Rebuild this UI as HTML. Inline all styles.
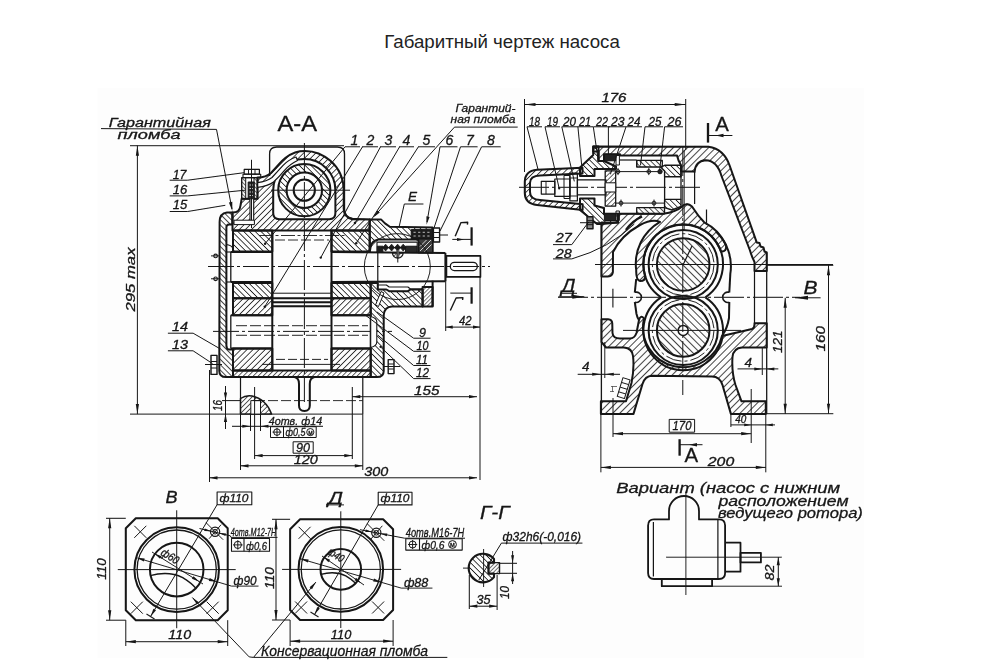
<!DOCTYPE html>
<html><head><meta charset="utf-8"><title>Габаритный чертеж насоса</title>
<style>
html,body{margin:0;padding:0;background:#fff;}
body{width:998px;height:672px;overflow:hidden;position:relative;font-family:"Liberation Sans",sans-serif;}
#title{position:absolute;left:0;top:31px;width:1004px;text-align:center;font-size:18.7px;color:#222;font-family:"Liberation Sans",sans-serif;}
svg{position:absolute;left:0;top:0;}
svg text{font-family:"Liberation Sans",sans-serif;fill:#151515;stroke:#151515;stroke-width:0.3px;}
</style></head><body>
<div id="title">Габаритный чертеж насоса</div>
<svg width="998" height="672" viewBox="0 0 998 672" stroke="#151515" fill="none" stroke-linecap="butt" stroke-linejoin="round">
<defs>
<pattern id="hf" width="4.3" height="4" patternUnits="userSpaceOnUse" patternTransform="rotate(45)"><line x1="0" y1="-1" x2="0" y2="5" stroke="#151515" stroke-width="1.55"/></pattern>
<pattern id="hb" width="4.1" height="4" patternUnits="userSpaceOnUse" patternTransform="rotate(-45)"><line x1="0" y1="-1" x2="0" y2="5" stroke="#151515" stroke-width="1.6"/></pattern>
<pattern id="hf2" width="2.8" height="4" patternUnits="userSpaceOnUse" patternTransform="rotate(45)"><line x1="0" y1="-1" x2="0" y2="5" stroke="#151515" stroke-width="1.15"/></pattern>
<pattern id="hb2" width="2.8" height="4" patternUnits="userSpaceOnUse" patternTransform="rotate(-45)"><line x1="0" y1="-1" x2="0" y2="5" stroke="#151515" stroke-width="1.15"/></pattern>
<pattern id="hb3" width="3.8" height="4" patternUnits="userSpaceOnUse" patternTransform="rotate(-45)"><line x1="0" y1="-1" x2="0" y2="5" stroke="#151515" stroke-width="1.5"/></pattern>
<pattern id="hf3" width="3.5" height="4" patternUnits="userSpaceOnUse" patternTransform="rotate(45)"><line x1="0" y1="-1" x2="0" y2="5" stroke="#151515" stroke-width="1.35"/></pattern>
<pattern id="hfw" width="5" height="4" patternUnits="userSpaceOnUse" patternTransform="rotate(45)"><line x1="0" y1="-1" x2="0" y2="5" stroke="#151515" stroke-width="1.6"/></pattern>
<pattern id="hbw" width="5" height="4" patternUnits="userSpaceOnUse" patternTransform="rotate(-45)"><line x1="0" y1="-1" x2="0" y2="5" stroke="#151515" stroke-width="1.6"/></pattern>
<filter id="soft" x="0" y="0" width="998" height="672" filterUnits="userSpaceOnUse"><feGaussianBlur stdDeviation="0.45"/></filter>
</defs>
<rect x="97.5" y="88" width="766.5" height="570.3" fill="#fdfdfd" stroke="none"/>
<g filter="url(#soft)">
<text x="108.8" y="126.8" font-size="13.4" font-style="italic" font-weight="normal" text-anchor="start" textLength="102.0" lengthAdjust="spacingAndGlyphs" >Гарантийная</text>
<line x1="101.0" y1="128.6" x2="216.5" y2="129.4" stroke-width="1.0" />
<text x="117.6" y="138.9" font-size="13.4" font-style="italic" font-weight="normal" text-anchor="start" textLength="63.0" lengthAdjust="spacingAndGlyphs" >пломба</text>
<line x1="216.5" y1="129.4" x2="232.0" y2="209.0" stroke-width="1.0" />
<path d="M232.3 211.0 L228.9 202.5 L232.3 201.8 Z" fill="#151515" stroke="none"/>
<text x="277.5" y="131.4" font-size="22.5" font-style="normal" font-weight="normal" text-anchor="start" textLength="39.5" lengthAdjust="spacingAndGlyphs" stroke="none">А-А</text>
<line x1="130.0" y1="145.7" x2="344.0" y2="145.7" stroke-width="1.0" />
<line x1="137.4" y1="145.7" x2="137.4" y2="414.1" stroke-width="1.0" />
<path d="M137.4 145.7 L139.0 155.7 L135.8 155.7 Z" fill="#151515" stroke="none"/>
<path d="M137.4 414.1 L135.8 404.1 L139.0 404.1 Z" fill="#151515" stroke="none"/>
<line x1="130.0" y1="414.1" x2="362.8" y2="414.1" stroke-width="1.0" />
<text x="134.5" y="311.5" font-size="12.5" font-style="italic" font-weight="normal" text-anchor="start" textLength="64.0" lengthAdjust="spacingAndGlyphs" transform="rotate(-90 134.5 311.5)" >295 max</text>
<text x="172.7" y="179.0" font-size="12.5" font-style="italic" font-weight="normal" text-anchor="start" textLength="13.8" lengthAdjust="spacingAndGlyphs" >17</text>
<line x1="169.7" y1="180.2" x2="187.7" y2="180.2" stroke-width="1.0" />
<line x1="187.7" y1="180.2" x2="244.0" y2="172.7" stroke-width="1.0" />
<text x="172.7" y="194.0" font-size="12.5" font-style="italic" font-weight="normal" text-anchor="start" textLength="14.5" lengthAdjust="spacingAndGlyphs" >16</text>
<line x1="169.7" y1="195.9" x2="187.7" y2="195.9" stroke-width="1.0" />
<line x1="187.7" y1="195.9" x2="245.3" y2="190.2" stroke-width="1.0" />
<text x="172.7" y="209.0" font-size="12.5" font-style="italic" font-weight="normal" text-anchor="start" textLength="14.5" lengthAdjust="spacingAndGlyphs" >15</text>
<line x1="169.7" y1="211.5" x2="187.7" y2="211.5" stroke-width="1.0" />
<line x1="187.7" y1="211.5" x2="225.3" y2="205.3" stroke-width="1.0" />
<text x="172.0" y="331.0" font-size="12.5" font-style="italic" font-weight="normal" text-anchor="start" textLength="16.0" lengthAdjust="spacingAndGlyphs" >14</text>
<line x1="167.9" y1="333.2" x2="193.1" y2="333.2" stroke-width="1.0" />
<line x1="193.1" y1="333.2" x2="219.9" y2="348.7" stroke-width="1.0" />
<text x="172.0" y="348.7" font-size="12.5" font-style="italic" font-weight="normal" text-anchor="start" textLength="16.0" lengthAdjust="spacingAndGlyphs" >13</text>
<line x1="167.9" y1="350.8" x2="193.1" y2="350.8" stroke-width="1.0" />
<line x1="193.1" y1="350.8" x2="212.5" y2="363.6" stroke-width="1.0" />
<text x="350.5" y="144.5" font-size="14" font-style="italic" font-weight="normal" text-anchor="start"  stroke="none">1</text>
<line x1="345.0" y1="146.8" x2="360.0" y2="146.8" stroke-width="1.0" />
<text x="366.5" y="144.5" font-size="14" font-style="italic" font-weight="normal" text-anchor="start"  stroke="none">2</text>
<line x1="362.0" y1="146.8" x2="378.0" y2="146.8" stroke-width="1.0" />
<text x="384.5" y="144.5" font-size="14" font-style="italic" font-weight="normal" text-anchor="start"  stroke="none">3</text>
<line x1="380.0" y1="146.8" x2="396.0" y2="146.8" stroke-width="1.0" />
<text x="402.5" y="144.5" font-size="14" font-style="italic" font-weight="normal" text-anchor="start"  stroke="none">4</text>
<line x1="399.0" y1="146.8" x2="414.0" y2="146.8" stroke-width="1.0" />
<text x="422.5" y="144.5" font-size="14" font-style="italic" font-weight="normal" text-anchor="start"  stroke="none">5</text>
<line x1="418.0" y1="146.8" x2="435.0" y2="146.8" stroke-width="1.0" />
<text x="445.5" y="144.5" font-size="14" font-style="italic" font-weight="normal" text-anchor="start"  stroke="none">6</text>
<line x1="440.0" y1="146.8" x2="457.5" y2="146.8" stroke-width="1.0" />
<text x="466.0" y="144.5" font-size="14" font-style="italic" font-weight="normal" text-anchor="start"  stroke="none">7</text>
<line x1="460.5" y1="146.8" x2="477.6" y2="146.8" stroke-width="1.0" />
<text x="487.1" y="144.5" font-size="14" font-style="italic" font-weight="normal" text-anchor="start"  stroke="none">8</text>
<line x1="481.6" y1="146.8" x2="500.7" y2="146.8" stroke-width="1.0" />
<line x1="345.0" y1="146.8" x2="265.1" y2="243.7" stroke-width="1.0" />
<circle cx="265.1" cy="243.7" r="1.2" stroke-width="0" fill="#151515" />
<line x1="362.5" y1="146.8" x2="264.7" y2="306.8" stroke-width="1.0" />
<circle cx="264.7" cy="306.8" r="1.2" stroke-width="0" fill="#151515" />
<line x1="380.5" y1="146.8" x2="320.8" y2="257.6" stroke-width="1.0" />
<circle cx="320.8" cy="257.6" r="1.2" stroke-width="0" fill="#151515" />
<line x1="399.6" y1="146.8" x2="354.9" y2="223.0" stroke-width="1.0" />
<circle cx="354.9" cy="223.0" r="1.2" stroke-width="0" fill="#151515" />
<line x1="418.4" y1="146.8" x2="356.2" y2="243.2" stroke-width="1.0" />
<circle cx="356.2" cy="243.2" r="1.2" stroke-width="0" fill="#151515" />
<line x1="440.0" y1="146.8" x2="427.0" y2="222.0" stroke-width="1.0" />
<path d="M426.6 224.5 L426.4 216.3 L429.6 216.9 Z" fill="#151515" stroke="none"/>
<line x1="460.5" y1="146.8" x2="434.0" y2="228.0" stroke-width="1.0" />
<line x1="481.6" y1="146.8" x2="440.0" y2="231.0" stroke-width="1.0" />
<text x="455.5" y="112.0" font-size="11.5" font-style="italic" font-weight="normal" text-anchor="start" textLength="60.0" lengthAdjust="spacingAndGlyphs" >Гарантий-</text>
<text x="450.5" y="122.5" font-size="11.5" font-style="italic" font-weight="normal" text-anchor="start" textLength="65.0" lengthAdjust="spacingAndGlyphs" >ная пломба</text>
<line x1="454.5" y1="127.1" x2="517.7" y2="127.1" stroke-width="1.0" />
<line x1="454.5" y1="127.1" x2="374.5" y2="216.0" stroke-width="1.0" />
<path d="M373.2 217.5 L377.3 210.5 L379.8 212.6 Z" fill="#151515" stroke="none"/>
<text x="408.0" y="201.4" font-size="13.5" font-style="italic" font-weight="normal" text-anchor="start" >Е</text>
<line x1="404.3" y1="204.0" x2="423.4" y2="204.0" stroke-width="1.0" />
<line x1="404.3" y1="204.0" x2="399.3" y2="226.0" stroke-width="1.0" />
<path d="M269.6 176 L269.6 154 Q269.6 147 276.6 147 L337.5 147 Q344.5 147 344.5 154 L344.5 209 Q344.5 217 352.5 218.5 L369.7 219.4" stroke-width="1.3" fill="none" />
<path d="M232.5 230.4 L232.5 212.6 Q239.8 212.6 240.5 205.5 L241.7 198.7 L257.5 198.7 L257.5 177.6 Q266 177.3 271 173 Q277 166.5 282 161 Q290 153 300 151.2 A39.3 39.3 0 0 1 343.7 190 L343.7 208.5 Q343.7 217.5 352.5 219.3 L369.7 219.4 L369.7 230.4 Z M273.2 190.2 A31.1 31.1 0 0 1 335.4 190.2 L335.4 213 Q335.4 219.2 329.2 219.2 L279.4 219.2 Q273.2 219.2 273.2 213 Z" fill="url(#hf)" fill-rule="evenodd" stroke-width="2.0"/>
<path d="M257.5 182.6 Q267 181.5 272 177.5 Q278 171 283.1 165.4 Q288 160 296 157 L297.5 160.5 Q290 164 284.5 170.4 Q279 177 273.5 182 Q268 186 257.5 187.4 Z" stroke-width="1.2" fill="#fdfdfd" />
<path d="M278.2 190.2 a26.1 26.1 0 1 0 52.2 0 a26.1 26.1 0 1 0 -52.2 0 Z M286.6 190.2 a17.7 17.7 0 1 0 35.4 0 a17.7 17.7 0 1 0 -35.4 0 Z" fill="url(#hb)" fill-rule="evenodd" stroke-width="2.0"/>
<circle cx="304.3" cy="190.2" r="10.6" stroke-width="2.0" fill="none" />
<line x1="271.0" y1="190.2" x2="350.0" y2="190.2" stroke-width="1.0" />
<line x1="304.4" y1="143.0" x2="304.4" y2="402.0" stroke-width="1.0" stroke-dasharray="30 3 3 3"/>
<rect x="244.2" y="169.4" width="15.2" height="4.8" rx="0" stroke-width="1.2" fill="none" />
<line x1="248.5" y1="169.4" x2="248.5" y2="174.2" stroke-width="0.95" />
<line x1="255.0" y1="169.4" x2="255.0" y2="174.2" stroke-width="0.95" />
<rect x="243.0" y="174.2" width="17.7" height="3.4" rx="0" stroke-width="1.1" fill="none" />
<rect x="241.7" y="177.6" width="15.8" height="21.1" rx="0" stroke-width="1.4" fill="none" />
<rect x="241.7" y="177.6" width="4" height="21.1" fill="url(#hb2)" stroke="none"/>
<rect x="254" y="177.6" width="3.5" height="21.1" fill="url(#hb2)" stroke="none"/>
<line x1="245.7" y1="177.6" x2="245.7" y2="198.7" stroke-width="1" />
<line x1="254.0" y1="177.6" x2="254.0" y2="198.7" stroke-width="1" />
<rect x="248.2" y="182.0" width="6.0" height="16.7" rx="0" stroke-width="1" fill="#2a2a2a" />
<path d="M249.5 185 h3.4 M249.5 188.5 h3.4 M249.5 192 h3.4 M249.5 195.5 h3.4" stroke="#ddd" stroke-width="0.9"/>
<rect x="250.0" y="198.7" width="3.7" height="23.3" rx="0" stroke-width="1.1" fill="#fdfdfd" />
<line x1="251.5" y1="159.8" x2="251.5" y2="228.0" stroke-width="1.0" />
<rect x="234.0" y="220.2" width="20.4" height="4.4" rx="0" stroke-width="1" fill="#fdfdfd" />
<path d="M232.4 212.6 L227 212.6 Q219.6 213.5 219.6 222 L219.3 371 Q219.3 377.1 226 377.1 L233 377.1 L233 349.6 L229 349.6 Q226.4 349 226.4 345.5 L226.4 227 Q226.6 224.4 229 224.4 L232.4 224.4 Z" fill="url(#hb3)" stroke-width="2.0"/>
<line x1="230.8" y1="252.0" x2="230.8" y2="282.0" stroke-width="1.3" />
<line x1="230.8" y1="315.2" x2="230.8" y2="348.4" stroke-width="1.3" />
<line x1="226.4" y1="252.0" x2="233.0" y2="252.0" stroke-width="1.1" />
<line x1="226.4" y1="282.0" x2="233.0" y2="282.0" stroke-width="1.1" />
<path d="M226.4 244.5 Q231 245 232.8 248" stroke-width="1.1" fill="none" />
<circle cx="215.6" cy="255.9" r="1.8" stroke-width="1.1" fill="none" />
<line x1="211.0" y1="255.9" x2="219.0" y2="255.9" stroke-width="1.0" />
<circle cx="215.6" cy="278.8" r="1.8" stroke-width="1.1" fill="none" />
<line x1="211.0" y1="278.8" x2="219.0" y2="278.8" stroke-width="1.0" />
<rect x="233" y="230.4" width="39.3" height="21.1" fill="url(#hb)" stroke-width="2.0"/>
<rect x="331.5" y="230.4" width="38.2" height="21.1" fill="url(#hb)" stroke-width="2.0"/>
<rect x="233" y="283.1" width="39.3" height="15.1" fill="url(#hb)" stroke-width="2.0"/>
<rect x="331.5" y="283.1" width="39.2" height="15.1" fill="url(#hb)" stroke-width="2.0"/>
<rect x="233" y="298.2" width="39.3" height="17.0" fill="url(#hf)" stroke-width="2.0"/>
<rect x="331.5" y="298.2" width="39.2" height="17.0" fill="url(#hf)" stroke-width="2.0"/>
<rect x="233" y="348.4" width="39.3" height="22.1" fill="url(#hf)" stroke-width="2.0"/>
<rect x="331.5" y="348.4" width="39.2" height="22.1" fill="url(#hf)" stroke-width="2.0"/>
<rect x="233" y="370.5" width="137.7" height="6.6" fill="url(#hf3)" stroke-width="2.0"/>
<line x1="272.3" y1="230.4" x2="272.3" y2="370.5" stroke-width="2.0" />
<line x1="331.5" y1="230.4" x2="331.5" y2="370.5" stroke-width="2.0" />
<line x1="272.3" y1="293.2" x2="331.5" y2="293.2" stroke-width="1.0" />
<line x1="272.3" y1="298.2" x2="331.5" y2="298.2" stroke-width="2.0" />
<line x1="272.3" y1="302.2" x2="331.5" y2="302.2" stroke-width="2.0" />
<line x1="272.3" y1="306.2" x2="331.5" y2="306.2" stroke-width="2.0" />
<line x1="259.0" y1="235.5" x2="345.0" y2="235.5" stroke-width="0.9" stroke-dasharray="14 2.5 3 2.5"/>
<line x1="275.0" y1="240.0" x2="329.0" y2="240.0" stroke-width="0.9" stroke-dasharray="10 3"/>
<line x1="276.0" y1="359.4" x2="328.0" y2="359.4" stroke-width="0.95" stroke-dasharray="9 3"/>
<line x1="262.0" y1="364.4" x2="340.0" y2="364.4" stroke-width="0.95" />
<line x1="230.8" y1="252.0" x2="272.3" y2="252.0" stroke-width="2.0" />
<line x1="331.5" y1="252.0" x2="445.4" y2="252.9" stroke-width="2.0" />
<line x1="230.8" y1="282.0" x2="272.3" y2="282.0" stroke-width="2.0" />
<line x1="331.5" y1="282.0" x2="445.4" y2="281.2" stroke-width="2.0" />
<line x1="208.0" y1="266.5" x2="490.0" y2="266.5" stroke-width="1.0" stroke-dasharray="26 3 3 3"/>
<line x1="230.8" y1="315.2" x2="272.3" y2="315.2" stroke-width="2.0" />
<line x1="230.8" y1="348.4" x2="272.3" y2="348.4" stroke-width="2.0" />
<line x1="331.5" y1="315.2" x2="370.7" y2="315.2" stroke-width="2.0" />
<line x1="331.5" y1="348.4" x2="370.7" y2="348.4" stroke-width="2.0" />
<line x1="213.0" y1="331.4" x2="392.0" y2="331.4" stroke-width="1.0" stroke-dasharray="26 3 3 3"/>
<line x1="236.0" y1="325.7" x2="368.0" y2="325.7" stroke-width="0.9" stroke-dasharray="11 3"/>
<line x1="236.0" y1="335.3" x2="368.0" y2="335.3" stroke-width="0.9" stroke-dasharray="11 3"/>
<path d="M370.7 283.1 L377.8 283.1 L377.8 289.5 L386.4 289.5 L389.1 291.2 L407.9 291.2 L410.5 289.5 L422.6 289.5 L422.6 306.6 L392 306.6 Q384.5 307 383.7 315 L383.7 371 Q383.7 377.1 377 377.1 L370.7 377.1 Z" fill="url(#hb)" stroke-width="2.0"/>
<rect x="422.6" y="287" width="10" height="19.6" fill="url(#hf2)" stroke-width="2.0"/>
<path d="M375.5 305.0 L381.0 291.5 L384.0 293.0 L378.5 306.5 Z" stroke-width="1" fill="#fdfdfd" />
<path d="M370.7 316.5 Q376.8 318 376.8 322 L376.8 342 Q376.8 346 370.7 347.5 Z" stroke-width="1.1" fill="#fdfdfd" />
<path d="M377.8 285.0 L386.4 285.0 L389.1 287.0 L407.9 287.0 L410.5 289.0 L422.6 289.0" stroke-width="1.1" fill="none" />
<line x1="432.6" y1="280.7" x2="432.6" y2="306.6" stroke-width="2.0" />
<rect x="211.0" y="355.4" width="6.0" height="19.0" rx="0" stroke-width="1.4" fill="none" />
<line x1="211.0" y1="361.5" x2="217.0" y2="361.5" stroke-width="1" />
<line x1="211.0" y1="368.0" x2="217.0" y2="368.0" stroke-width="1" />
<line x1="205.0" y1="364.5" x2="222.0" y2="364.5" stroke-width="1.0" />
<rect x="388.2" y="359.6" width="5.8" height="14.0" rx="0" stroke-width="1.4" fill="none" />
<line x1="388.2" y1="364.0" x2="394.0" y2="364.0" stroke-width="1" />
<line x1="388.2" y1="369.0" x2="394.0" y2="369.0" stroke-width="1" />
<line x1="383.7" y1="366.5" x2="400.0" y2="366.5" stroke-width="1.0" />
<path d="M369.7 219.4 L381 219.4 L385 223.4 L389.8 226.8 L432.6 227.4 L432.6 252.4 L418.6 252.4 L418.6 239.5 L378.4 239.5 Q372 240.5 370.6 247 L369.7 252 Z" fill="url(#hb)" stroke-width="2.0"/>
<rect x="411.2" y="229.6" width="21.4" height="9.4" rx="0" stroke-width="1" fill="#1e1e1e" />
<path d="M413.5 232.3 h17 M413.5 236 h17" stroke="#cfcfcf" stroke-width="0.9" stroke-dasharray="2.2 2.4"/>
<rect x="418.6" y="239" width="14" height="13.4" fill="#3a3a3a" stroke-width="1.2"/>
<path d="M420 251 l11 -11 M420 246.5 l6.5 -6.5 M424.5 251.5 l7 -7" stroke="#e5e5e5" stroke-width="0.9"/>
<path d="M377 252.4 L377 242.1 L417.2 242.1 L417.2 252.4" stroke-width="1.1" fill="none" />
<rect x="377.3" y="246.2" width="5.6" height="6.2" rx="0" stroke-width="0.95" fill="#1e1e1e" />
<rect x="405.5" y="246.2" width="11.5" height="6.2" rx="0" stroke-width="0.95" fill="#2a2a2a" />
<path d="M382.7 247.6 L385.6 244.2 L388.5 247.6 L385.6 251 Z" fill="#1e1e1e" stroke-width="0.8"/>
<path d="M388.7 247.6 L391.6 244.2 L394.5 247.6 L391.6 251 Z" fill="#1e1e1e" stroke-width="0.8"/>
<path d="M394.7 247.6 L397.6 244.2 L400.5 247.6 L397.6 251 Z" fill="#1e1e1e" stroke-width="0.8"/>
<path d="M400.3 247.6 L403.2 244.2 L406.1 247.6 L403.2 251 Z" fill="#1e1e1e" stroke-width="0.8"/>
<line x1="381.0" y1="247.6" x2="406.0" y2="247.6" stroke-width="1.3" />
<path d="M392.4 252.8 A5.4 5.4 0 0 0 403.2 252.8 Z" fill="url(#hf2)" stroke-width="1.2"/>
<rect x="396.8" y="249.5" width="2.0" height="8.0" rx="0" stroke-width="0.7" fill="#fdfdfd" />
<line x1="397.8" y1="248.0" x2="397.8" y2="262.5" stroke-width="1.0" />
<rect x="433.4" y="228.0" width="6.2" height="14.0" rx="0" stroke-width="1.4" fill="none" />
<line x1="433.4" y1="232.5" x2="439.6" y2="232.5" stroke-width="1" />
<line x1="433.4" y1="237.5" x2="439.6" y2="237.5" stroke-width="1" />
<line x1="440.0" y1="235.0" x2="448.0" y2="235.0" stroke-width="1.0" />
<circle cx="397.3" cy="266.6" r="33.0" stroke-width="0.95" fill="none" />
<line x1="377.8" y1="252.9" x2="377.8" y2="281.2" stroke-width="1.2" />
<line x1="445.4" y1="252.9" x2="445.4" y2="281.2" stroke-width="2.0" />
<rect x="446.4" y="255.9" width="34.0" height="21.0" rx="0" stroke-width="1.7" fill="none" />
<rect x="450.3" y="262.3" width="27.0" height="8.3" rx="4.1" stroke-width="1.3" fill="none" />
<path d="M455.2 236.2 L461 222.6 L467.7 222.2 L467.4 224.6" stroke-width="1.4" fill="none" />
<line x1="471.6" y1="227.3" x2="471.6" y2="245.6" stroke-width="2.2" />
<line x1="452.3" y1="239.4" x2="471.6" y2="239.4" stroke-width="1.0" />
<path d="M464.0 239.4 L457.0 240.9 L457.0 237.9 Z" fill="#151515" stroke="none"/>
<path d="M450.3 310.5 L456.1 298 L462.9 297.6 L462.6 300" stroke-width="1.4" fill="none" />
<line x1="471.6" y1="287.3" x2="471.6" y2="303.7" stroke-width="2.2" />
<line x1="450.3" y1="293.1" x2="471.6" y2="293.1" stroke-width="1.0" />
<line x1="445.7" y1="277.0" x2="445.7" y2="331.0" stroke-width="1.0" />
<line x1="480.0" y1="276.7" x2="480.0" y2="480.0" stroke-width="1.0" />
<line x1="445.7" y1="327.1" x2="480.0" y2="327.1" stroke-width="1.0" />
<path d="M445.7 327.1 L452.7 325.5 L452.7 328.7 Z" fill="#151515" stroke="none"/>
<path d="M480.0 327.1 L473.0 328.7 L473.0 325.5 Z" fill="#151515" stroke="none"/>
<text x="459.0" y="324.5" font-size="12.5" font-style="italic" font-weight="normal" text-anchor="start" textLength="12.6" lengthAdjust="spacingAndGlyphs" >42</text>
<text x="419.0" y="337.0" font-size="12.5" font-style="italic" font-weight="normal" text-anchor="start" >9</text>
<line x1="413.6" y1="338.2" x2="430.5" y2="338.2" stroke-width="1.0" />
<line x1="413.6" y1="338.2" x2="377.0" y2="312.0" stroke-width="1.0" />
<text x="416.5" y="349.5" font-size="12.5" font-style="italic" font-weight="normal" text-anchor="start" textLength="12.0" lengthAdjust="spacingAndGlyphs" >10</text>
<line x1="413.6" y1="351.3" x2="430.5" y2="351.3" stroke-width="1.0" />
<line x1="413.6" y1="351.3" x2="363.6" y2="313.8" stroke-width="1.0" />
<text x="416.0" y="364.0" font-size="12.5" font-style="italic" font-weight="normal" text-anchor="start" textLength="12.0" lengthAdjust="spacingAndGlyphs" >11</text>
<line x1="413.6" y1="365.5" x2="430.5" y2="365.5" stroke-width="1.0" />
<line x1="413.6" y1="365.5" x2="377.9" y2="335.2" stroke-width="1.0" />
<text x="416.0" y="377.4" font-size="12.5" font-style="italic" font-weight="normal" text-anchor="start" textLength="13.0" lengthAdjust="spacingAndGlyphs" >12</text>
<line x1="413.6" y1="378.6" x2="430.5" y2="378.6" stroke-width="1.0" />
<line x1="413.6" y1="378.6" x2="380.5" y2="346.8" stroke-width="1.0" />
<circle cx="380.5" cy="346.8" r="1.1" stroke-width="0" fill="#151515" />
<line x1="240.5" y1="377.1" x2="240.5" y2="414.1" stroke-width="1.2" />
<line x1="362.8" y1="377.1" x2="362.8" y2="414.1" stroke-width="1.2" />
<path d="M294.5 377.1 Q299 378 299 384 L299 405.5 Q299 411 304.4 411 Q309.8 411 309.8 405.5 L309.8 384 Q309.8 378 314.5 377.1" stroke-width="2.0" fill="none" />
<path d="M240.5 414.1 L240.5 398.5 Q246 394.8 252 396 Q266 399 271.6 414.1 Z" fill="url(#hf3)" stroke-width="1.4"/>
<rect x="250.8" y="400.6" width="9.7" height="13.5" rx="0" stroke-width="1.0" fill="#fdfdfd" />
<line x1="254.6" y1="387.0" x2="254.6" y2="459.0" stroke-width="1.0" />
<line x1="352.3" y1="387.0" x2="352.3" y2="459.0" stroke-width="1.0" />
<line x1="255.0" y1="400.6" x2="362.8" y2="400.6" stroke-width="0.9" stroke-dasharray="10 3"/>
<line x1="225.5" y1="386.0" x2="225.5" y2="429.0" stroke-width="1.0" />
<path d="M225.5 400.6 L223.9 392.6 L227.1 392.6 Z" fill="#151515" stroke="none"/>
<path d="M225.5 414.1 L227.1 422.1 L223.9 422.1 Z" fill="#151515" stroke="none"/>
<line x1="222.0" y1="400.6" x2="240.5" y2="400.6" stroke-width="1.0" />
<text x="221.6" y="411.0" font-size="12" font-style="italic" font-weight="normal" text-anchor="start" textLength="11.0" lengthAdjust="spacingAndGlyphs" transform="rotate(-90 221.6 411.0)" >16</text>
<line x1="352.3" y1="396.7" x2="477.0" y2="396.7" stroke-width="1.0" />
<path d="M352.3 396.7 L360.3 395.1 L360.3 398.3 Z" fill="#151515" stroke="none"/>
<path d="M477.0 396.7 L469.0 398.3 L469.0 395.1 Z" fill="#151515" stroke="none"/>
<text x="413.9" y="394.6" font-size="12.5" font-style="italic" font-weight="normal" text-anchor="start" textLength="25.5" lengthAdjust="spacingAndGlyphs" >155</text>
<text x="268.7" y="424.8" font-size="11.5" font-style="italic" font-weight="normal" text-anchor="start" textLength="53.5" lengthAdjust="spacingAndGlyphs" >4отв. ф14</text>
<line x1="232.0" y1="426.3" x2="323.0" y2="426.3" stroke-width="1.0" />
<path d="M250.3 426.3 L242.3 427.8 L242.3 424.8 Z" fill="#151515" stroke="none"/>
<path d="M260.5 426.3 L268.5 424.8 L268.5 427.8 Z" fill="#151515" stroke="none"/>
<line x1="250.5" y1="414.1" x2="250.5" y2="431.0" stroke-width="1.0" />
<line x1="260.5" y1="414.1" x2="260.5" y2="431.0" stroke-width="1.0" />
<rect x="270.5" y="426.7" width="45.7" height="10.8" rx="0" stroke-width="1" fill="none" />
<line x1="283.5" y1="426.7" x2="283.5" y2="437.5" stroke-width="1" />
<circle cx="277.0" cy="432.1" r="3.3" stroke-width="1.0" fill="none" />
<line x1="272.5" y1="432.1" x2="281.5" y2="432.1" stroke-width="0.95" />
<line x1="277.0" y1="427.8" x2="277.0" y2="436.4" stroke-width="0.95" />
<text x="285.5" y="436.4" font-size="11" font-style="italic" font-weight="normal" text-anchor="start" textLength="20.0" lengthAdjust="spacingAndGlyphs" >ф0,5</text>
<circle cx="310.3" cy="432.1" r="3.6" stroke-width="0.95" fill="none" />
<text x="308.2" y="434.6" font-size="6.5" font-style="normal" font-weight="normal" text-anchor="start" >м</text>
<rect x="293.1" y="441.8" width="20.1" height="11.4" rx="0" stroke-width="1" fill="none" />
<text x="296.0" y="451.6" font-size="12.5" font-style="italic" font-weight="normal" text-anchor="start" textLength="14.0" lengthAdjust="spacingAndGlyphs" >90</text>
<line x1="254.6" y1="455.6" x2="352.3" y2="455.6" stroke-width="1.0" />
<path d="M254.6 455.6 L262.6 454.0 L262.6 457.2 Z" fill="#151515" stroke="none"/>
<path d="M352.3 455.6 L344.3 457.2 L344.3 454.0 Z" fill="#151515" stroke="none"/>
<line x1="240.5" y1="414.1" x2="240.5" y2="470.0" stroke-width="1.0" />
<line x1="362.8" y1="414.1" x2="362.8" y2="470.0" stroke-width="1.0" />
<line x1="240.5" y1="465.8" x2="362.8" y2="465.8" stroke-width="1.0" />
<path d="M240.5 465.8 L248.5 464.2 L248.5 467.4 Z" fill="#151515" stroke="none"/>
<path d="M362.8 465.8 L354.8 467.4 L354.8 464.2 Z" fill="#151515" stroke="none"/>
<text x="293.7" y="464.3" font-size="12.5" font-style="italic" font-weight="normal" text-anchor="start" textLength="24.0" lengthAdjust="spacingAndGlyphs" >120</text>
<line x1="209.5" y1="370.0" x2="209.5" y2="482.0" stroke-width="1.0" />
<line x1="209.5" y1="477.8" x2="477.0" y2="477.8" stroke-width="1.0" />
<path d="M209.5 477.8 L217.5 476.2 L217.5 479.4 Z" fill="#151515" stroke="none"/>
<path d="M477.0 477.8 L469.0 479.4 L469.0 476.2 Z" fill="#151515" stroke="none"/>
<text x="364.3" y="476.4" font-size="12.5" font-style="italic" font-weight="normal" text-anchor="start" textLength="24.0" lengthAdjust="spacingAndGlyphs" >300</text>
<line x1="524.5" y1="99.0" x2="524.5" y2="172.0" stroke-width="1.0" />
<line x1="685.7" y1="99.0" x2="685.7" y2="150.0" stroke-width="1.0" />
<line x1="524.5" y1="104.5" x2="685.7" y2="104.5" stroke-width="1.0" />
<path d="M524.5 104.5 L535.5 102.9 L535.5 106.1 Z" fill="#151515" stroke="none"/>
<path d="M685.7 104.5 L674.7 106.1 L674.7 102.9 Z" fill="#151515" stroke="none"/>
<text x="601.4" y="102.4" font-size="12.5" font-style="italic" font-weight="normal" text-anchor="start" textLength="25.0" lengthAdjust="spacingAndGlyphs" >176</text>
<text x="529.0" y="125.7" font-size="12.5" font-style="italic" font-weight="normal" text-anchor="start" textLength="11.0" lengthAdjust="spacingAndGlyphs" >18</text>
<line x1="527.0" y1="126.8" x2="542.0" y2="126.8" stroke-width="1.0" />
<line x1="527.0" y1="126.8" x2="538.0" y2="169.3" stroke-width="1.0" />
<text x="547.0" y="125.7" font-size="12.5" font-style="italic" font-weight="normal" text-anchor="start" textLength="11.0" lengthAdjust="spacingAndGlyphs" >19</text>
<line x1="545.0" y1="126.8" x2="560.0" y2="126.8" stroke-width="1.0" />
<line x1="545.0" y1="126.8" x2="559.2" y2="188.4" stroke-width="1.0" />
<circle cx="559.2" cy="188.4" r="1.1" stroke-width="0" fill="#151515" />
<text x="563.0" y="125.7" font-size="12.5" font-style="italic" font-weight="normal" text-anchor="start" textLength="13.0" lengthAdjust="spacingAndGlyphs" >20</text>
<line x1="561.8" y1="126.8" x2="578.0" y2="126.8" stroke-width="1.0" />
<line x1="561.8" y1="126.8" x2="574.3" y2="181.4" stroke-width="1.0" />
<text x="579.0" y="125.7" font-size="12.5" font-style="italic" font-weight="normal" text-anchor="start" textLength="12.0" lengthAdjust="spacingAndGlyphs" >21</text>
<line x1="577.9" y1="126.8" x2="593.0" y2="126.8" stroke-width="1.0" />
<line x1="577.9" y1="126.8" x2="581.9" y2="167.3" stroke-width="1.0" />
<text x="596.0" y="125.7" font-size="12.5" font-style="italic" font-weight="normal" text-anchor="start" textLength="12.0" lengthAdjust="spacingAndGlyphs" >22</text>
<line x1="593.3" y1="126.8" x2="610.0" y2="126.8" stroke-width="1.0" />
<line x1="593.3" y1="126.8" x2="598.4" y2="161.3" stroke-width="1.0" />
<text x="611.0" y="125.7" font-size="12.5" font-style="italic" font-weight="normal" text-anchor="start" textLength="13.5" lengthAdjust="spacingAndGlyphs" >23</text>
<line x1="608.4" y1="126.8" x2="626.0" y2="126.8" stroke-width="1.0" />
<line x1="608.4" y1="126.8" x2="608.4" y2="157.3" stroke-width="1.0" />
<text x="627.5" y="125.7" font-size="12.5" font-style="italic" font-weight="normal" text-anchor="start" textLength="13.0" lengthAdjust="spacingAndGlyphs" >24</text>
<line x1="626.0" y1="126.8" x2="642.0" y2="126.8" stroke-width="1.0" />
<line x1="626.0" y1="126.8" x2="610.4" y2="174.3" stroke-width="1.0" />
<text x="648.5" y="125.7" font-size="12.5" font-style="italic" font-weight="normal" text-anchor="start" textLength="13.0" lengthAdjust="spacingAndGlyphs" >25</text>
<line x1="645.0" y1="126.8" x2="663.0" y2="126.8" stroke-width="1.0" />
<line x1="645.0" y1="126.8" x2="640.5" y2="165.3" stroke-width="1.0" />
<text x="667.6" y="125.7" font-size="12.5" font-style="italic" font-weight="normal" text-anchor="start" textLength="14.0" lengthAdjust="spacingAndGlyphs" >26</text>
<line x1="664.6" y1="126.8" x2="683.0" y2="126.8" stroke-width="1.0" />
<line x1="664.6" y1="126.8" x2="659.6" y2="170.3" stroke-width="1.0" />
<line x1="708.0" y1="123.0" x2="708.0" y2="142.6" stroke-width="2.3" />
<line x1="708.0" y1="135.5" x2="732.4" y2="135.5" stroke-width="1.0" />
<path d="M715.5 135.5 L723.5 133.8 L723.5 137.2 Z" fill="#151515" stroke="none"/>
<text x="715.3" y="131.3" font-size="20.5" font-style="normal" font-weight="normal" text-anchor="start" textLength="13.6" lengthAdjust="spacingAndGlyphs" stroke="none">А</text>
<path d="M593.2 146.5 L708.5 146.8 Q724 149 729.8 166 L756.7 242.4 L759.5 243 L760.5 246.5 L763.5 247.5 L764.5 251.5 L766.7 252.5 L766.7 271 L754.5 271 L754.5 262 Q751.5 256 750 250.5 L721.5 176 Q717 160.5 705.5 160.3 Q695.5 161 694.6 172 L694.6 171.5 L681 171.5 L681 165.3 Q678.3 161 677 155.5 L620 155.5 L620 154.2 L604 154.2 L604 161 L598.5 161 L598.5 151.5 L593.2 151.5 Z" fill="url(#hfw)" stroke-width="2.0"/>
<path d="M601.5 222.5 L618 222.5 L618 213.8 L663 213.8 Q676 212 681.5 207 Q686.5 201.5 692 206.5 Q698 216 704.2 222.3 A47 47 0 0 1 726 245 Q727 252 721 251.5 L719.5 248 A39.8 39.8 0 0 0 645.3 276.4 Q645 281 640.5 281 Q636 281 636.2 270 A48.5 48.5 0 0 1 660 221.8 Q652 218.5 640 225 Q621 235.5 613 252 L612.9 272 Q612.5 276.4 608 276.4 L601.5 276.4 Z" fill="url(#hfw)" stroke-width="2.0"/>
<path d="M601.5 319.3 L608 319.3 Q612.3 319.5 612.3 324 L612.5 333 Q613 338.5 620 338.5 L630 338.5 Q634.5 338.5 636.5 333 L639 320 Q640.5 314.5 644 318.5 A39.8 39.8 0 0 0 722 336 L752 329 Q754.5 328 754.5 324.5 L754.5 323.3 L766.7 323.3 L766.7 347.5 L742 347.5 Q733.5 348 732.5 357 Q731.5 372 735.5 385 L741.5 401.3 L765.8 401.3 L765.8 413.9 L730.9 413.9 L722.5 385 Q720 376.5 712 376.4 L652 375.8 Q645 376 642.5 384 L633.5 413.9 L600.9 413.9 L600.9 401.3 L626 401.3 L631.5 383 Q634.5 368 633 356 Q632 348 624 347.5 L606 347.5 L601.5 342 Z" fill="url(#hfw)" stroke-width="2.0"/>
<path d="M642 216.5 Q632 221 626 230" stroke-width="2.4" fill="none" />
<path d="M716 231.5 A48 48 0 0 1 730.3 274 L729.3 292.5 M729.3 302 L729 318 Q727.5 328 722 336" stroke-width="2.0" fill="none" />
<path d="M636.2 279 L634.8 292.5 M634.8 302 L636.5 314 Q637.5 318.5 639 320" stroke-width="2.0" fill="none" />
<path d="M634.8 292.3 A5.2 5.2 0 1 1 634.8 302.3" stroke-width="1.6" fill="none" />
<path d="M729.3 292.3 A5.2 5.2 0 1 0 729.3 302.3" stroke-width="1.6" fill="none" />
<path d="M705.4 297.3 A39.8 39.8 0 1 0 661 297.3" stroke-width="2.0" fill="none" />
<path d="M661 297.3 A39.8 39.8 0 1 0 705.4 297.3" stroke-width="2.0" fill="none" />
<circle cx="683.2" cy="264.5" r="34.6" stroke-width="2.0" fill="none" />
<circle cx="683.2" cy="264.5" r="30.8" stroke-width="0.95" fill="none" stroke-dasharray="16 3 3 3"/>
<circle cx="683.2" cy="264.5" r="26.3" fill="url(#hbw)" stroke-width="2.0"/>
<circle cx="683.2" cy="330.4" r="34.6" stroke-width="2.0" fill="none" />
<circle cx="683.2" cy="330.4" r="30.8" stroke-width="0.95" fill="none" stroke-dasharray="16 3 3 3"/>
<circle cx="683.2" cy="330.4" r="26.3" fill="url(#hbw)" stroke-width="2.0"/>
<circle cx="683.2" cy="330.4" r="5.0" stroke-width="1.5" fill="#fdfdfd" />
<line x1="683.2" y1="264.5" x2="692.0" y2="246.0" stroke-width="1.2" />
<line x1="601.4" y1="222.0" x2="601.4" y2="413.9" stroke-width="1.3" />
<line x1="766.7" y1="252.5" x2="766.7" y2="413.9" stroke-width="1.3" />
<line x1="754.5" y1="271.0" x2="754.5" y2="323.3" stroke-width="1.2" />
<line x1="694.6" y1="172.0" x2="694.6" y2="204.0" stroke-width="1.2" />
<line x1="706.5" y1="209.5" x2="706.5" y2="225.0" stroke-width="1.2" />
<line x1="682.8" y1="146.0" x2="682.8" y2="395.0" stroke-width="1.0" stroke-dasharray="30 3 3 3"/>
<line x1="595.0" y1="264.5" x2="833.0" y2="264.5" stroke-width="1.0" />
<line x1="558.0" y1="297.3" x2="800.0" y2="297.3" stroke-width="1.0" stroke-dasharray="30 3 3 3"/>
<line x1="623.0" y1="330.4" x2="741.0" y2="330.4" stroke-width="1.0" />
<line x1="612.9" y1="288.8" x2="612.9" y2="307.5" stroke-width="1.1" />
<line x1="519.0" y1="187.3" x2="700.0" y2="187.3" stroke-width="1.0" stroke-dasharray="30 3 3 3"/>
<path d="M582.5 167.8 L537 169.8 Q524.8 171 524.8 182 L524.8 193 Q524.8 203.5 537 205 L582.6 209.9 L582.6 204.2 L540 200.1 Q530 199.5 530 192 L530 183 Q530 176 540 175.6 L582.5 173.4 Z" fill="url(#hf)" stroke-width="2.0"/>
<rect x="541.3" y="181.3" width="13.5" height="12.8" rx="0" stroke-width="1.2" fill="none" />
<line x1="546.0" y1="181.3" x2="546.0" y2="194.1" stroke-width="0.95" />
<rect x="554.8" y="179.0" width="15.1" height="17.4" rx="0" stroke-width="1.2" fill="none" />
<rect x="569.9" y="173.0" width="7.5" height="27.9" rx="0" stroke-width="1.2" fill="none" />
<line x1="569.9" y1="178.0" x2="577.4" y2="178.0" stroke-width="0.95" />
<line x1="569.9" y1="196.0" x2="577.4" y2="196.0" stroke-width="0.95" />
<rect x="564.0" y="175.5" width="5.9" height="23.0" rx="0" stroke-width="1" fill="none" />
<rect x="577.4" y="179.8" width="28.6" height="15.1" rx="0" stroke-width="1.3" fill="none" />
<path d="M580 167.5 L593.2 155 L593.2 146.5 L598.5 146.5 L598.5 161 L604 161 L616 166.5 L616 169 L594.5 169 L594.5 176 L580 176 Z" fill="url(#hb)" stroke-width="2.0"/>
<path d="M580 210 L597 224 L601.5 224 L618 222.5 L618 213.8 L604 213.8 L604 208 L594.5 205.5 L594.5 198.5 L580 198.5 Z" fill="url(#hb)" stroke-width="2.0"/>
<rect x="604.4" y="154.3" width="11.3" height="6.5" rx="0" stroke-width="1" fill="#222" />
<rect x="616.0" y="155.5" width="3.4" height="9.5" rx="0" stroke-width="1" fill="none" />
<rect x="604.4" y="214.0" width="11.3" height="6.5" rx="0" stroke-width="1" fill="#222" />
<rect x="616.0" y="211.0" width="3.4" height="9.5" rx="0" stroke-width="1" fill="none" />
<rect x="605.2" y="170.8" width="10.5" height="35.3" fill="url(#hf3)" stroke-width="1.3"/>
<rect x="605.2" y="182.8" width="10.5" height="9.2" rx="0" stroke-width="1" fill="#fdfdfd" />
<path d="M636.7 160.3 L662.3 160.3 L662.3 167 L636.7 167 Z" fill="url(#hb3)" stroke-width="1.3"/>
<path d="M636.7 207.6 L664.5 207.6 L664.5 213.8 L636.7 213.8 Z" fill="url(#hb3)" stroke-width="1.3"/>
<path d="M660.8 167.2 L664.6 165.3 L681 165.3 L681 176.7 L664.6 176.7 L664.6 171 Z" fill="url(#hb)" stroke-width="1.4"/>
<path d="M664.6 199.4 L681 199.4 L681 206.5 L672 210 L664.6 207.6 Z" fill="url(#hb)" stroke-width="1.4"/>
<line x1="664.6" y1="176.7" x2="664.6" y2="199.4" stroke-width="1.3" />
<line x1="681.0" y1="171.5" x2="681.0" y2="199.4" stroke-width="1.3" />
<line x1="684.2" y1="150.0" x2="684.2" y2="230.0" stroke-width="0.9" />
<line x1="615.7" y1="171.6" x2="662.0" y2="171.6" stroke-width="1" />
<line x1="615.7" y1="203.1" x2="664.0" y2="203.1" stroke-width="1" />
<circle cx="618.0" cy="171.6" r="1.9" stroke-width="1" fill="none" />
<line x1="618.0" y1="168.1" x2="618.0" y2="175.1" stroke-width="1.0" />
<circle cx="648.8" cy="171.6" r="1.9" stroke-width="1" fill="none" />
<line x1="648.8" y1="168.1" x2="648.8" y2="175.1" stroke-width="1.0" />
<circle cx="621.0" cy="203.1" r="1.9" stroke-width="1" fill="none" />
<line x1="621.0" y1="199.6" x2="621.0" y2="206.6" stroke-width="1.0" />
<circle cx="654.0" cy="203.1" r="1.9" stroke-width="1" fill="none" />
<line x1="654.0" y1="199.6" x2="654.0" y2="206.6" stroke-width="1.0" />
<circle cx="660.0" cy="171.6" r="2.2" stroke-width="1" fill="#222" />
<line x1="619.4" y1="160.0" x2="636.7" y2="160.0" stroke-width="1.2" />
<line x1="619.4" y1="213.8" x2="636.7" y2="213.8" stroke-width="1.2" />
<line x1="636.7" y1="160.0" x2="636.7" y2="167.0" stroke-width="1.2" />
<rect x="587.0" y="216.7" width="6.0" height="12.0" rx="0" stroke-width="1.4" fill="#888" />
<line x1="587.0" y1="220.7" x2="593.0" y2="220.7" stroke-width="1" />
<line x1="587.0" y1="224.7" x2="593.0" y2="224.7" stroke-width="1" />
<line x1="580.0" y1="222.7" x2="601.0" y2="222.7" stroke-width="1.0" />
<text x="555.7" y="242.3" font-size="12.5" font-style="italic" font-weight="normal" text-anchor="start" textLength="16.0" lengthAdjust="spacingAndGlyphs" >27</text>
<line x1="553.0" y1="244.6" x2="571.8" y2="244.6" stroke-width="1.0" />
<line x1="571.8" y1="244.6" x2="588.8" y2="221.8" stroke-width="1.0" />
<text x="555.7" y="257.5" font-size="12.5" font-style="italic" font-weight="normal" text-anchor="start" textLength="16.0" lengthAdjust="spacingAndGlyphs" >28</text>
<line x1="553.0" y1="258.9" x2="571.8" y2="258.9" stroke-width="1.0" />
<path d="M571.8 258.9 Q610 248 634.3 224" stroke-width="1.0" fill="none" />
<text x="561.5" y="291.5" font-size="18" font-style="italic" font-weight="normal" text-anchor="start" textLength="14.0" lengthAdjust="spacingAndGlyphs"  stroke="none">Д</text>
<line x1="560.0" y1="293.3" x2="577.0" y2="293.3" stroke-width="0.95" />
<line x1="558.4" y1="296.8" x2="584.3" y2="296.8" stroke-width="1.0" />
<path d="M584.3 296.8 L572.3 298.8 L572.3 294.8 Z" fill="#151515" stroke="none"/>
<text x="803.6" y="293.6" font-size="19" font-style="italic" font-weight="normal" text-anchor="start" textLength="14.0" lengthAdjust="spacingAndGlyphs"  stroke="none">В</text>
<line x1="795.0" y1="297.8" x2="820.6" y2="297.8" stroke-width="1.0" />
<path d="M795.0 297.8 L808.0 295.8 L808.0 299.8 Z" fill="#151515" stroke="none"/>
<line x1="766.7" y1="413.7" x2="833.3" y2="413.7" stroke-width="1.0" />
<line x1="766.7" y1="265.3" x2="833.3" y2="265.3" stroke-width="1.0" />
<line x1="828.5" y1="265.3" x2="828.5" y2="413.7" stroke-width="1.0" />
<path d="M828.5 265.3 L830.1 275.3 L826.9 275.3 Z" fill="#151515" stroke="none"/>
<path d="M828.5 413.7 L826.9 403.7 L830.1 403.7 Z" fill="#151515" stroke="none"/>
<text x="825.0" y="351.5" font-size="12.5" font-style="italic" font-weight="normal" text-anchor="start" textLength="25.5" lengthAdjust="spacingAndGlyphs" transform="rotate(-90 825.0 351.5)" >160</text>
<line x1="785.2" y1="297.8" x2="785.2" y2="413.7" stroke-width="1.0" />
<path d="M785.2 297.8 L786.8 307.8 L783.6 307.8 Z" fill="#151515" stroke="none"/>
<path d="M785.2 413.7 L783.6 403.7 L786.8 403.7 Z" fill="#151515" stroke="none"/>
<text x="782.4" y="353.0" font-size="12.5" font-style="italic" font-weight="normal" text-anchor="start" textLength="22.6" lengthAdjust="spacingAndGlyphs" transform="rotate(-90 782.4 353.0)" >121</text>
<text x="582.0" y="371.0" font-size="13.5" font-style="italic" font-weight="normal" text-anchor="start" >4</text>
<line x1="577.7" y1="374.3" x2="620.0" y2="374.3" stroke-width="1.0" />
<path d="M601.2 374.3 L592.2 375.8 L592.2 372.8 Z" fill="#151515" stroke="none"/>
<path d="M604.8 374.3 L613.8 372.8 L613.8 375.8 Z" fill="#151515" stroke="none"/>
<line x1="604.8" y1="342.0" x2="604.8" y2="378.0" stroke-width="0.95" />
<text x="744.5" y="366.5" font-size="13.5" font-style="italic" font-weight="normal" text-anchor="start" >4</text>
<line x1="737.5" y1="368.9" x2="778.3" y2="368.9" stroke-width="1.0" />
<path d="M762.3 368.9 L754.3 370.4 L754.3 367.4 Z" fill="#151515" stroke="none"/>
<path d="M766.3 368.9 L774.3 367.4 L774.3 370.4 Z" fill="#151515" stroke="none"/>
<line x1="762.3" y1="347.5" x2="762.3" y2="375.0" stroke-width="0.95" />
<line x1="613.0" y1="398.0" x2="613.0" y2="437.0" stroke-width="1.0" />
<line x1="751.2" y1="389.0" x2="751.2" y2="443.0" stroke-width="1.0" />
<g transform="rotate(17 624 388)"><rect x="620" y="378.5" width="7.5" height="19.5" stroke-width="1"/><line x1="620" y1="383.4" x2="627.5" y2="383.4" stroke-width="0.9"/><line x1="620" y1="388.3" x2="627.5" y2="388.3" stroke-width="0.9"/><line x1="620" y1="393.2" x2="627.5" y2="393.2" stroke-width="0.9"/></g>
<path d="M611 386.5 h6 M612.5 386.5 v5 M610 391.5 h4" stroke-width="0.6" fill="none" />
<rect x="669.2" y="419.4" width="25.4" height="12.8" rx="0" stroke-width="1" fill="none" />
<text x="672.5" y="430.0" font-size="12" font-style="italic" font-weight="normal" text-anchor="start" textLength="19.0" lengthAdjust="spacingAndGlyphs" >170</text>
<line x1="613.0" y1="433.7" x2="751.2" y2="433.7" stroke-width="1.0" />
<path d="M613.0 433.7 L623.0 432.1 L623.0 435.3 Z" fill="#151515" stroke="none"/>
<path d="M751.2 433.7 L741.2 435.3 L741.2 432.1 Z" fill="#151515" stroke="none"/>
<text x="735.3" y="422.5" font-size="11" font-style="italic" font-weight="normal" text-anchor="start" textLength="11.0" lengthAdjust="spacingAndGlyphs" >40</text>
<line x1="730.9" y1="413.9" x2="730.9" y2="427.0" stroke-width="1.0" />
<line x1="730.9" y1="424.9" x2="775.0" y2="424.9" stroke-width="1.0" />
<path d="M751.2 424.9 L744.2 426.3 L744.2 423.5 Z" fill="#151515" stroke="none"/>
<path d="M765.8 424.9 L772.8 423.5 L772.8 426.3 Z" fill="#151515" stroke="none"/>
<line x1="600.9" y1="413.9" x2="600.9" y2="472.3" stroke-width="1.0" />
<line x1="765.8" y1="413.9" x2="765.8" y2="472.3" stroke-width="1.0" />
<line x1="600.9" y1="467.4" x2="765.8" y2="467.4" stroke-width="1.0" />
<path d="M600.9 467.4 L610.9 465.8 L610.9 469.0 Z" fill="#151515" stroke="none"/>
<path d="M765.8 467.4 L755.8 469.0 L755.8 465.8 Z" fill="#151515" stroke="none"/>
<text x="707.8" y="465.7" font-size="12.5" font-style="italic" font-weight="normal" text-anchor="start" textLength="26.4" lengthAdjust="spacingAndGlyphs" >200</text>
<line x1="679.6" y1="439.2" x2="679.6" y2="455.7" stroke-width="2.3" />
<line x1="679.6" y1="444.7" x2="702.5" y2="444.7" stroke-width="1.0" />
<path d="M689.0 444.7 L697.0 442.9 L697.0 446.4 Z" fill="#151515" stroke="none"/>
<text x="684.4" y="462.4" font-size="21" font-style="normal" font-weight="normal" text-anchor="start" textLength="13.6" lengthAdjust="spacingAndGlyphs" stroke="none">А</text>
<path d="M135.8 518.3 L217.7 518.3 L227.7 528.3 L227.7 610.2 L217.7 620.2 L135.8 620.2 L125.8 610.2 L125.8 528.3 Z" stroke-width="2.0" fill="none" />
<circle cx="176.7" cy="569.6" r="42.3" stroke-width="2.0" fill="none" />
<circle cx="176.7" cy="569.6" r="39.6" stroke-width="1.3" fill="none" />
<line x1="176.7" y1="510.3" x2="176.7" y2="628.2" stroke-width="1.0" />
<line x1="117.8" y1="569.6" x2="235.7" y2="569.6" stroke-width="1.0" />
<line x1="134.3" y1="525.8" x2="146.3" y2="537.8" stroke-width="1.0" />
<line x1="134.3" y1="537.8" x2="146.3" y2="525.8" stroke-width="1.0" />
<line x1="130.8" y1="601.7" x2="142.8" y2="613.7" stroke-width="1.0" />
<line x1="130.8" y1="613.7" x2="142.8" y2="601.7" stroke-width="1.0" />
<line x1="206.7" y1="601.7" x2="218.7" y2="613.7" stroke-width="1.0" />
<line x1="206.7" y1="613.7" x2="218.7" y2="601.7" stroke-width="1.0" />
<circle cx="215.1" cy="531.7" r="4.6" stroke-width="1.2" fill="none" />
<circle cx="215.1" cy="531.7" r="2.3" stroke-width="1.0" fill="none" />
<line x1="206.1" y1="522.7" x2="223.1" y2="539.7" stroke-width="0.95" />
<line x1="209.1" y1="538.7" x2="221.1" y2="524.7" stroke-width="0.95" />
<text x="165.5" y="502.6" font-size="16" font-style="italic" font-weight="normal" text-anchor="start" textLength="12.0" lengthAdjust="spacingAndGlyphs"  stroke="none">В</text>
<circle cx="176.7" cy="569.6" r="26.8" stroke-width="2.0" fill="none" />
<path d="M150.2 575.6 Q168.7 570.6 182.7 577.6 Q191.7 583.1 196.2 588.6" stroke-width="1.4" fill="none" />
<rect x="217.1" y="492.0" width="34.7" height="12.7" rx="0" stroke-width="1.1" fill="none" />
<text x="219.5" y="502.0" font-size="11.5" font-style="italic" font-weight="normal" text-anchor="start" textLength="29.0" lengthAdjust="spacingAndGlyphs" >ф110</text>
<line x1="217.1" y1="504.7" x2="150.6" y2="616.4" stroke-width="1.0" />
<line x1="146.5" y1="614.0" x2="154.5" y2="619.0" stroke-width="1.1" />
<path d="M150.6 616.4 L153.4 608.8 L156.0 610.3 Z" fill="#151515" stroke="none"/>
<text x="230.8" y="536.2" font-size="11.5" font-style="italic" font-weight="normal" text-anchor="start" textLength="45.5" lengthAdjust="spacingAndGlyphs" >4отв.М12-7Н</text>
<path d="M199.5 528.5 L230.3 535.8 L231.0 537.4 L277.5 537.4" stroke-width="1.0" fill="none" />
<path d="M211.3 531.3 L204.2 531.0 L204.8 528.4 Z" fill="#151515" stroke="none"/>
<path d="M218.9 533.1 L226.0 533.4 L225.4 536.0 Z" fill="#151515" stroke="none"/>
<rect x="231.5" y="538.5" width="38.0" height="12.7" rx="0" stroke-width="1.1" fill="none" />
<line x1="244.0" y1="538.5" x2="244.0" y2="551.2" stroke-width="1.1" />
<circle cx="237.8" cy="544.9" r="3.6" stroke-width="1.0" fill="none" />
<line x1="233.0" y1="544.9" x2="242.6" y2="544.9" stroke-width="0.95" />
<line x1="237.8" y1="540.2" x2="237.8" y2="549.6" stroke-width="0.95" />
<text x="246.0" y="549.6" font-size="11.5" font-style="italic" font-weight="normal" text-anchor="start" textLength="21.0" lengthAdjust="spacingAndGlyphs" >ф0,6</text>
<text x="233.6" y="584.6" font-size="12" font-style="italic" font-weight="normal" text-anchor="start" textLength="23.0" lengthAdjust="spacingAndGlyphs" >ф90</text>
<line x1="231.5" y1="586.1" x2="258.5" y2="586.1" stroke-width="0.95" />
<line x1="231.5" y1="586.1" x2="137.5" y2="558.0" stroke-width="0.95" />
<path d="M216.9 581.7 L208.8 580.9 L209.7 578.0 Z" fill="#151515" stroke="none"/>
<path d="M136.6 557.7 L144.7 558.5 L143.8 561.4 Z" fill="#151515" stroke="none"/>
<line x1="152.0" y1="552.0" x2="203.0" y2="584.0" stroke-width="0.95" />
<path d="M154.0 553.2 L161.6 556.2 L160.0 558.7 Z" fill="#151515" stroke="none"/>
<path d="M199.5 581.8 L191.9 578.8 L193.5 576.3 Z" fill="#151515" stroke="none"/>
<text x="160.0" y="554.5" font-size="11.5" font-style="italic" font-weight="normal" text-anchor="start" textLength="19.0" lengthAdjust="spacingAndGlyphs" transform="rotate(32 160.0 554.5)" >ф60</text>
<line x1="106.0" y1="518.3" x2="125.8" y2="518.3" stroke-width="1.0" />
<line x1="106.0" y1="620.2" x2="125.8" y2="620.2" stroke-width="1.0" />
<line x1="109.7" y1="518.3" x2="109.7" y2="620.2" stroke-width="1.0" />
<path d="M109.7 518.3 L111.3 528.3 L108.1 528.3 Z" fill="#151515" stroke="none"/>
<path d="M109.7 620.2 L108.1 610.2 L111.3 610.2 Z" fill="#151515" stroke="none"/>
<text x="106.4" y="579.8" font-size="12.5" font-style="italic" font-weight="normal" text-anchor="start" textLength="21.5" lengthAdjust="spacingAndGlyphs" transform="rotate(-90 106.4 579.8)" >110</text>
<line x1="125.8" y1="620.2" x2="125.8" y2="646.0" stroke-width="1.0" />
<line x1="227.7" y1="620.2" x2="227.7" y2="646.0" stroke-width="1.0" />
<line x1="125.8" y1="641.7" x2="227.7" y2="641.7" stroke-width="1.0" />
<path d="M125.8 641.7 L135.8 640.1 L135.8 643.3 Z" fill="#151515" stroke="none"/>
<path d="M227.7 641.7 L217.7 643.3 L217.7 640.1 Z" fill="#151515" stroke="none"/>
<text x="168.3" y="639.2" font-size="12.5" font-style="italic" font-weight="normal" text-anchor="start" textLength="22.8" lengthAdjust="spacingAndGlyphs" >110</text>
<path d="M300.1 519.3 L383.1 519.3 L393.1 529.3 L393.1 610.0 L383.1 620.0 L300.1 620.0 L290.1 610.0 L290.1 529.3 Z" stroke-width="2.0" fill="none" />
<circle cx="340.8" cy="569.4" r="42.3" stroke-width="2.0" fill="none" />
<circle cx="340.8" cy="569.4" r="39.6" stroke-width="1.3" fill="none" />
<line x1="340.8" y1="511.3" x2="340.8" y2="628.0" stroke-width="1.0" />
<line x1="282.1" y1="569.4" x2="401.1" y2="569.4" stroke-width="1.0" />
<line x1="298.6" y1="526.8" x2="310.6" y2="538.8" stroke-width="1.0" />
<line x1="298.6" y1="538.8" x2="310.6" y2="526.8" stroke-width="1.0" />
<line x1="295.1" y1="601.5" x2="307.1" y2="613.5" stroke-width="1.0" />
<line x1="295.1" y1="613.5" x2="307.1" y2="601.5" stroke-width="1.0" />
<line x1="372.1" y1="601.5" x2="384.1" y2="613.5" stroke-width="1.0" />
<line x1="372.1" y1="613.5" x2="384.1" y2="601.5" stroke-width="1.0" />
<circle cx="376.3" cy="532.8" r="4.6" stroke-width="1.2" fill="none" />
<circle cx="376.3" cy="532.8" r="2.3" stroke-width="1.0" fill="none" />
<line x1="367.3" y1="523.8" x2="384.3" y2="540.8" stroke-width="0.95" />
<line x1="370.3" y1="539.8" x2="382.3" y2="525.8" stroke-width="0.95" />
<text x="328.0" y="503.6" font-size="16.5" font-style="italic" font-weight="normal" text-anchor="start" textLength="15.0" lengthAdjust="spacingAndGlyphs"  stroke="none">Д</text>
<line x1="326.0" y1="504.9" x2="344.0" y2="504.9" stroke-width="0.95" />
<circle cx="340.8" cy="569.4" r="20.3" stroke-width="2.0" fill="none" />
<path d="M320.8 574.4 Q334.8 570.4 345.8 575.9 Q351.8 579.4 355.8 583.4" stroke-width="1.4" fill="none" />
<rect x="378.2" y="492.2" width="33.8" height="12.7" rx="0" stroke-width="1.1" fill="none" />
<text x="380.5" y="502.2" font-size="11.5" font-style="italic" font-weight="normal" text-anchor="start" textLength="29.0" lengthAdjust="spacingAndGlyphs" >ф110</text>
<line x1="378.2" y1="504.9" x2="314.5" y2="614.6" stroke-width="1.0" />
<line x1="310.5" y1="612.0" x2="318.5" y2="617.0" stroke-width="1.1" />
<path d="M314.5 614.6 L317.2 606.9 L319.8 608.4 Z" fill="#151515" stroke="none"/>
<text x="405.8" y="537.2" font-size="12" font-style="italic" font-weight="normal" text-anchor="start" textLength="58.5" lengthAdjust="spacingAndGlyphs" >4отв.М16-7Н</text>
<path d="M360.0 529.7 L404.5 538.2 L465.0 538.2" stroke-width="1.0" fill="none" />
<path d="M372.4 532.1 L365.3 532.1 L365.8 529.4 Z" fill="#151515" stroke="none"/>
<path d="M380.2 533.6 L387.3 533.6 L386.8 536.3 Z" fill="#151515" stroke="none"/>
<rect x="405.8" y="538.8" width="56.4" height="11.3" rx="0" stroke-width="1.1" fill="none" />
<line x1="419.5" y1="538.8" x2="419.5" y2="550.1" stroke-width="1.1" />
<circle cx="412.6" cy="544.5" r="3.5" stroke-width="1.0" fill="none" />
<line x1="408.0" y1="544.5" x2="417.2" y2="544.5" stroke-width="0.95" />
<line x1="412.6" y1="540.0" x2="412.6" y2="549.0" stroke-width="0.95" />
<text x="421.5" y="549.0" font-size="11.5" font-style="italic" font-weight="normal" text-anchor="start" textLength="23.0" lengthAdjust="spacingAndGlyphs" >ф0,6</text>
<circle cx="452.5" cy="544.5" r="3.9" stroke-width="1.0" fill="none" />
<text x="450.1" y="547.0" font-size="7" font-style="normal" font-weight="normal" text-anchor="start" >м</text>
<text x="403.9" y="586.8" font-size="12" font-style="italic" font-weight="normal" text-anchor="start" textLength="24.4" lengthAdjust="spacingAndGlyphs" >ф88</text>
<line x1="401.2" y1="588.1" x2="432.4" y2="588.1" stroke-width="0.95" />
<line x1="401.2" y1="588.1" x2="300.0" y2="558.7" stroke-width="0.95" />
<path d="M381.3 582.3 L373.2 581.5 L374.0 578.6 Z" fill="#151515" stroke="none"/>
<path d="M300.5 558.8 L308.6 559.6 L307.8 562.5 Z" fill="#151515" stroke="none"/>
<line x1="322.0" y1="556.0" x2="364.0" y2="585.0" stroke-width="0.95" />
<path d="M323.5 557.0 L330.1 559.7 L328.4 562.2 Z" fill="#151515" stroke="none"/>
<path d="M361.0 583.0 L354.4 580.3 L356.1 577.8 Z" fill="#151515" stroke="none"/>
<text x="327.0" y="553.5" font-size="11" font-style="italic" font-weight="normal" text-anchor="start" textLength="17.0" lengthAdjust="spacingAndGlyphs" transform="rotate(33 327.0 553.5)" >ф40</text>
<line x1="272.0" y1="519.3" x2="290.1" y2="519.3" stroke-width="1.0" />
<line x1="272.0" y1="620.0" x2="290.1" y2="620.0" stroke-width="1.0" />
<line x1="276.0" y1="519.3" x2="276.0" y2="620.0" stroke-width="1.0" />
<path d="M276.0 519.3 L277.6 529.3 L274.4 529.3 Z" fill="#151515" stroke="none"/>
<path d="M276.0 620.0 L274.4 610.0 L277.6 610.0 Z" fill="#151515" stroke="none"/>
<text x="273.9" y="588.9" font-size="12.5" font-style="italic" font-weight="normal" text-anchor="start" textLength="21.7" lengthAdjust="spacingAndGlyphs" transform="rotate(-90 273.9 588.9)" >110</text>
<line x1="290.1" y1="620.0" x2="290.1" y2="646.0" stroke-width="1.0" />
<line x1="393.1" y1="620.0" x2="393.1" y2="646.0" stroke-width="1.0" />
<line x1="290.1" y1="641.2" x2="393.1" y2="641.2" stroke-width="1.0" />
<path d="M290.1 641.2 L300.1 639.6 L300.1 642.8 Z" fill="#151515" stroke="none"/>
<path d="M393.1 641.2 L383.1 642.8 L383.1 639.6 Z" fill="#151515" stroke="none"/>
<text x="330.8" y="639.4" font-size="12.5" font-style="italic" font-weight="normal" text-anchor="start" textLength="20.5" lengthAdjust="spacingAndGlyphs" >110</text>
<text x="261.1" y="656.4" font-size="14.5" font-style="italic" font-weight="normal" text-anchor="start" textLength="167.0" lengthAdjust="spacingAndGlyphs"  stroke="none">Консервационная пломба</text>
<line x1="253.5" y1="657.4" x2="447.3" y2="657.4" stroke-width="1.0" />
<line x1="253.5" y1="657.4" x2="315.9" y2="582.1" stroke-width="1.0" />
<path d="M315.9 582.1 L312.0 589.2 L309.6 587.3 Z" fill="#151515" stroke="none"/>
<line x1="249.2" y1="656.9" x2="192.3" y2="597.5" stroke-width="1.0" />
<path d="M192.3 597.5 L198.9 602.2 L196.8 604.3 Z" fill="#151515" stroke="none"/>
<line x1="249.2" y1="656.9" x2="253.5" y2="657.4" stroke-width="1.0" />
<text x="480.0" y="519.3" font-size="17.5" font-style="italic" font-weight="normal" text-anchor="start" textLength="29.5" lengthAdjust="spacingAndGlyphs"  stroke="none">Г-Г</text>
<path d="M494 559 A14.3 14.3 0 1 0 494 577.2 L494 573.6 L488.5 573.6 L488.5 562.6 L494 562.6 Z" fill="url(#hb)" stroke-width="2.1"/>
<rect x="488.5" y="562.6" width="11" height="11" fill="url(#hf2)" stroke-width="1.4"/>
<line x1="483.6" y1="549.0" x2="483.6" y2="587.0" stroke-width="0.95" />
<line x1="463.0" y1="568.1" x2="470.0" y2="568.1" stroke-width="0.95" />
<text x="502.6" y="541.0" font-size="12" font-style="italic" font-weight="normal" text-anchor="start" textLength="78.5" lengthAdjust="spacingAndGlyphs" >ф32h6(-0,016)</text>
<line x1="501.4" y1="543.1" x2="582.4" y2="543.1" stroke-width="1.0" />
<line x1="501.4" y1="543.1" x2="478.8" y2="580.0" stroke-width="1.0" />
<line x1="469.3" y1="575.0" x2="469.3" y2="609.0" stroke-width="1.0" />
<line x1="497.1" y1="575.0" x2="497.1" y2="610.0" stroke-width="1.0" />
<line x1="469.3" y1="606.2" x2="497.1" y2="606.2" stroke-width="1.0" />
<path d="M469.3 606.2 L477.3 604.6 L477.3 607.8 Z" fill="#151515" stroke="none"/>
<path d="M497.1 606.2 L489.1 607.8 L489.1 604.6 Z" fill="#151515" stroke="none"/>
<text x="476.4" y="603.6" font-size="12.5" font-style="italic" font-weight="normal" text-anchor="start" textLength="14.0" lengthAdjust="spacingAndGlyphs" >35</text>
<line x1="499.5" y1="563.3" x2="517.0" y2="563.3" stroke-width="1.0" />
<line x1="499.5" y1="573.3" x2="517.0" y2="573.3" stroke-width="1.0" />
<line x1="512.6" y1="551.0" x2="512.6" y2="584.0" stroke-width="1.0" />
<path d="M512.6 563.3 L511.1 555.3 L514.1 555.3 Z" fill="#151515" stroke="none"/>
<path d="M512.6 573.3 L514.1 581.3 L511.1 581.3 Z" fill="#151515" stroke="none"/>
<text x="508.6" y="599.0" font-size="12.5" font-style="italic" font-weight="normal" text-anchor="start" textLength="13.0" lengthAdjust="spacingAndGlyphs" transform="rotate(-90 508.6 599.0)" >10</text>
<text x="616.2" y="492.7" font-size="15.5" font-style="italic" font-weight="normal" text-anchor="start" textLength="224.0" lengthAdjust="spacingAndGlyphs"  stroke="none">Вариант (насос с нижним</text>
<text x="718.5" y="505.6" font-size="15.5" font-style="italic" font-weight="normal" text-anchor="start" textLength="130.0" lengthAdjust="spacingAndGlyphs"  stroke="none">расположением</text>
<text x="717.9" y="517.6" font-size="15.5" font-style="italic" font-weight="normal" text-anchor="start" textLength="145.0" lengthAdjust="spacingAndGlyphs"  stroke="none">ведущего ротора)</text>
<path d="M669 519.4 L669 511 A15 15 0 0 1 699 511 L699 519.4 L719 519.4 Q725.1 519.4 725.1 525.5 L725.1 573 Q725.1 579 719 579 L654 579 Q648.1 579 648.1 573 L648.1 525.5 Q648.1 519.4 654 519.4 Z" stroke-width="1.8" fill="none" />
<line x1="653.4" y1="522.0" x2="653.4" y2="576.5" stroke-width="1.2" />
<line x1="717.9" y1="519.4" x2="717.9" y2="579.0" stroke-width="1.2" />
<path d="M725.1 542.7 L740.5 542.7 L740.5 571.7 L725.1 571.7" stroke-width="1.8" fill="none" />
<rect x="740.5" y="552.8" width="20.4" height="9.6" rx="0" stroke-width="1.8" fill="none" />
<path d="M661.8 579.0 L661.8 586.2 L712.1 586.2 L712.1 579.0" stroke-width="1.8" fill="none" />
<line x1="685.9" y1="491.8" x2="685.9" y2="595.0" stroke-width="0.95" />
<line x1="666.1" y1="557.2" x2="781.8" y2="557.2" stroke-width="0.95" />
<line x1="712.1" y1="586.2" x2="782.0" y2="586.2" stroke-width="0.95" />
<line x1="778.3" y1="557.2" x2="778.3" y2="586.2" stroke-width="1.0" />
<path d="M778.3 557.2 L779.9 565.2 L776.7 565.2 Z" fill="#151515" stroke="none"/>
<path d="M778.3 586.2 L776.7 578.2 L779.9 578.2 Z" fill="#151515" stroke="none"/>
<text x="774.5" y="580.4" font-size="12.5" font-style="italic" font-weight="normal" text-anchor="start" textLength="16.0" lengthAdjust="spacingAndGlyphs" transform="rotate(-90 774.5 580.4)" >82</text>
</g>
</svg>
</body></html>
